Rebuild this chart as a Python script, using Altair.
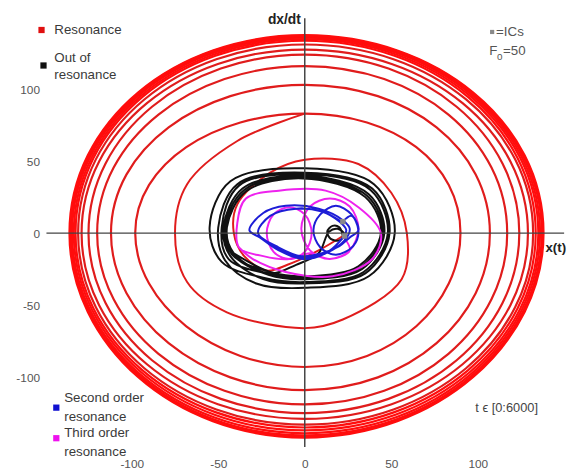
import altair as alt
import pandas as pd

FONT = "Liberation Sans"

# ---------------- data ----------------
X_DOMAIN = [-149.3, 149.9]
Y_DOMAIN = [-154.1, 154.1]
X_TICKS = [-100, -50, 0, 50, 100]
Y_TICKS = [-100, -50, 0, 50, 100]

# resonance: first turn traced from the IC, then axis crossings of each later turn
RED_START_X = [22, 8, -10, -22, -35, -41, -39, -20, 0, 31, 50, 59, 56, 22, 0,
               -45, -68, -75, -68, -39, 0]
RED_START_Y = [-2, -12, -22, -26, -16, 0, 20, 42, 51, 48, 28, 0, -32, -60, -66,
               -55, -34, 0, 34, 64, 83]
RED_TOP = [83, 103, 116, 124, 127.5, 131, 133.6, 134.8, 135.8, 136.5, 137, 137.5]
RED_RIGHT = [90, 107, 117, 124, 129, 132, 133.5, 135, 136, 137, 137.5, 138]
RED_BOTTOM = [-93, -109, -119, -125, -129, -133, -135, -137, -139, -140.5, -141.5, -142]
RED_LEFT = [-98, -112, -120, -125, -129, -131, -132.5, -133.5, -134.5, -135, -135.5, -136]

# out of resonance (beating)
BLACK_X = [22, 20, 16, 13, 15, 20, 23, 19, 14, 8, -5, -20,
           -41, -45, -34, -1, 35, 44, 31, 0, -20,
           -42, -46, -35, -1, 36, 45, 32, 0, -22,
           -44, -48, -38, 0, 38, 48, 34, 0, -24,
           -48, -55, -43, 0, 40, 52, 37, 0, -28,
           -46, -50, -39, 0, 39, 49, 35, 0, -24,
           -43, -47, -36, -1, 37, 46, 33, 0, -21,
           -42, -45, -34, -1, 35, 44, 31, 0, -20, -41]
BLACK_Y = [-2, 4, 5, 1, -4, -5, -1, 3, 1, -14, -22, -28,
           -14, 4, 29, 38, 25, 0, -23, -30, -27,
           -15, 4, 30, 39, 26, 0, -24, -31, -28,
           -18, 4, 33, 41, 30, 0, -27, -34, -31,
           -20, 4, 36, 45, 34, 0, -30, -38, -35,
           -19, 4, 34, 42, 31, 0, -28, -35, -32,
           -16, 4, 31, 40, 27, 0, -25, -32, -29,
           -14, 4, 29, 38, 25, 0, -23, -30, -27, -14]

# third order resonance
MAG_X = [22, 26, 14.5, 3, -2, 3, 14.5, 26, 31, 26, 14.5, 3,
         -9, -18, -22, -18, -9, 0, 4, 0, -9, -24,
         -38, -39, -34, -15, 12, 31, 44, 39, 16, -11, -30, -38]
MAG_Y = [-2, -12, -18, -12, 3, 18.5, 24, 18.5, 3, -12, -18, -14,
         -18, -13, 0, 13, 18, 13, 0, -13, -18, -16,
         -10, 7, 24, 29.5, 29.5, 18, 0, -18, -30, -27, -18, -10]

# second order resonance
BLUE_X = [22, 27, 31, 28, 18, 9, 5, 9, 18, 27, 31, 26, 20, 10, -2, -15, -27,
          -20, -5, 10, 20, 24, 20, 12, -1, -15, -26, -32,
          -24, -11, 8, 22, 26, 23, 12, -1, -15, -27, -20, -5, 10, 21]
BLUE_Y = [8, 12, 2, -9, -15, -10, 2, 13, 19, 13, 2, -3, -9, -14, -16, -10, 0,
          12, 17, 15, 8, 2, -6, -14, -18, -12, -3, 2,
          14, 19, 17, 9, 3, -5, -14, -17, -11, 0, 12, 17, 15, 8]

ICS_X = [22, 23]
ICS_Y = [8, -2]


def table(xs, ys):
    return pd.DataFrame({"x": xs, "y": ys, "i": list(range(len(xs)))})


# one closed loop per turn through its four axis crossings
ring_rows = []
for k in range(len(RED_TOP)):
    for j, (xv, yv) in enumerate([(0, RED_TOP[k]), (RED_RIGHT[k], 0),
                                  (0, RED_BOTTOM[k]), (RED_LEFT[k], 0)]):
        ring_rows.append({"x": xv, "y": yv, "i": j, "ring": k})
rings = pd.DataFrame(ring_rows)

xenc = alt.X("x:Q", scale=alt.Scale(domain=X_DOMAIN, nice=False, zero=False),
             axis=alt.Axis(values=X_TICKS, title=None, domain=False, ticks=False, tickSize=0,
                           grid=False, labelPadding=4, labelFont=FONT, labelFontSize=12,
                           labelColor="#555555", orient="bottom",
                           labelExpr="'' + datum.value"))
yenc = alt.Y("y:Q", scale=alt.Scale(domain=Y_DOMAIN, nice=False, zero=False),
             axis=alt.Axis(values=Y_TICKS, title=None, domain=False, ticks=False, tickSize=0,
                           grid=False, labelPadding=7, labelFont=FONT, labelFontSize=12,
                           labelColor="#555555", orient="left",
                           labelExpr="'' + datum.value"))


def curve(xs, ys, color, interp, width=2.0):
    return alt.Chart(table(xs, ys)).mark_line(
        color=color, strokeWidth=width, interpolate=interp, strokeJoin="round"
    ).encode(x=xenc, y=yenc, order="i:Q")


red_start = curve(RED_START_X, RED_START_Y, "#e01c1c", "catmull-rom", 2.0)
red_rings = alt.Chart(rings).mark_line(
    strokeWidth=2.2, interpolate="cardinal-closed", tension=-0.657
).encode(
    x=xenc, y=yenc, order="i:Q", detail="ring:N",
    color=alt.condition(alt.datum.ring >= 6, alt.value("#ff0d0d"), alt.value("#e01c1c")),
)
black = curve(BLACK_X, BLACK_Y, "#111111", "catmull-rom", 2.0)
magenta = curve(MAG_X, MAG_Y, "#ee22ee", "catmull-rom", 2.0)
blue = curve(BLUE_X, BLUE_Y, "#1d1dd6", "catmull-rom", 2.0)

ics = alt.Chart(table(ICS_X, ICS_Y)).mark_square(color="#8a8a8a", size=30, opacity=1).encode(
    x=xenc, y=yenc)

one = pd.DataFrame({"a": [0]})
vaxis = alt.Chart(one).mark_rule(color="#444444", strokeWidth=1.5).encode(
    x=alt.datum(0, scale=alt.Scale(domain=X_DOMAIN, nice=False, zero=False)),
    y=alt.value(7), y2=alt.value(442))
haxis = alt.Chart(one).mark_rule(color="#444444", strokeWidth=1.5).encode(
    y=alt.datum(0, scale=alt.Scale(domain=Y_DOMAIN, nice=False, zero=False)),
    x=alt.value(0), x2=alt.value(525))

OX, OY = 47, 8


def label(px, py, s, size=13.5, color="#3a3a3a", weight="normal", align="left"):
    return alt.Chart(one).mark_text(
        text=s, font=FONT, fontSize=size, color=color, fontWeight=weight,
        align=align, baseline="middle"
    ).encode(x=alt.value(px - OX), y=alt.value(py - OY))


def swatch(px, py, color, size=40):
    return alt.Chart(one).mark_square(color=color, size=size, opacity=1).encode(
        x=alt.value(px - OX), y=alt.value(py - OY))


texts = [
    swatch(42, 27, "#e01010"), label(55, 27, "Resonance"),
    swatch(44, 63, "#111111"), label(55, 55, "Out of"), label(55, 73, "resonance"),
    swatch(57, 410, "#1010d0"), label(65, 400, "Second order"), label(65, 420, "resonance"),
    swatch(57, 441, "#ee11ee"), label(65, 436, "Third order"), label(65, 455, "resonance"),
    swatch(499, 29, "#8a8a8a", 18), label(503, 29, "=ICs", color="#555555"),
    label(496, 48, "F", color="#555555"), label(504, 54, "0", size=10, color="#555555"),
    label(510, 48, "=50", color="#555555"),
    label(482, 410, "t \u03f5 [0:6000]", size=13, color="#444444"),
    label(305, 17, "dx/dt", size=14, color="#222222", weight="bold", align="right"),
    label(553, 248, "x(t)", size=13.5, color="#222222", weight="bold"),
]

chart = alt.layer(
    red_rings, red_start, black, magenta, blue, vaxis, haxis, ics, *texts
).properties(
    width=525, height=450, autosize="none",
    padding={"left": 39, "top": 0, "right": 8, "bottom": 17},
).configure_view(stroke=None)

chart.save("out.html", embed_options={"renderer": "svg", "actions": False})
